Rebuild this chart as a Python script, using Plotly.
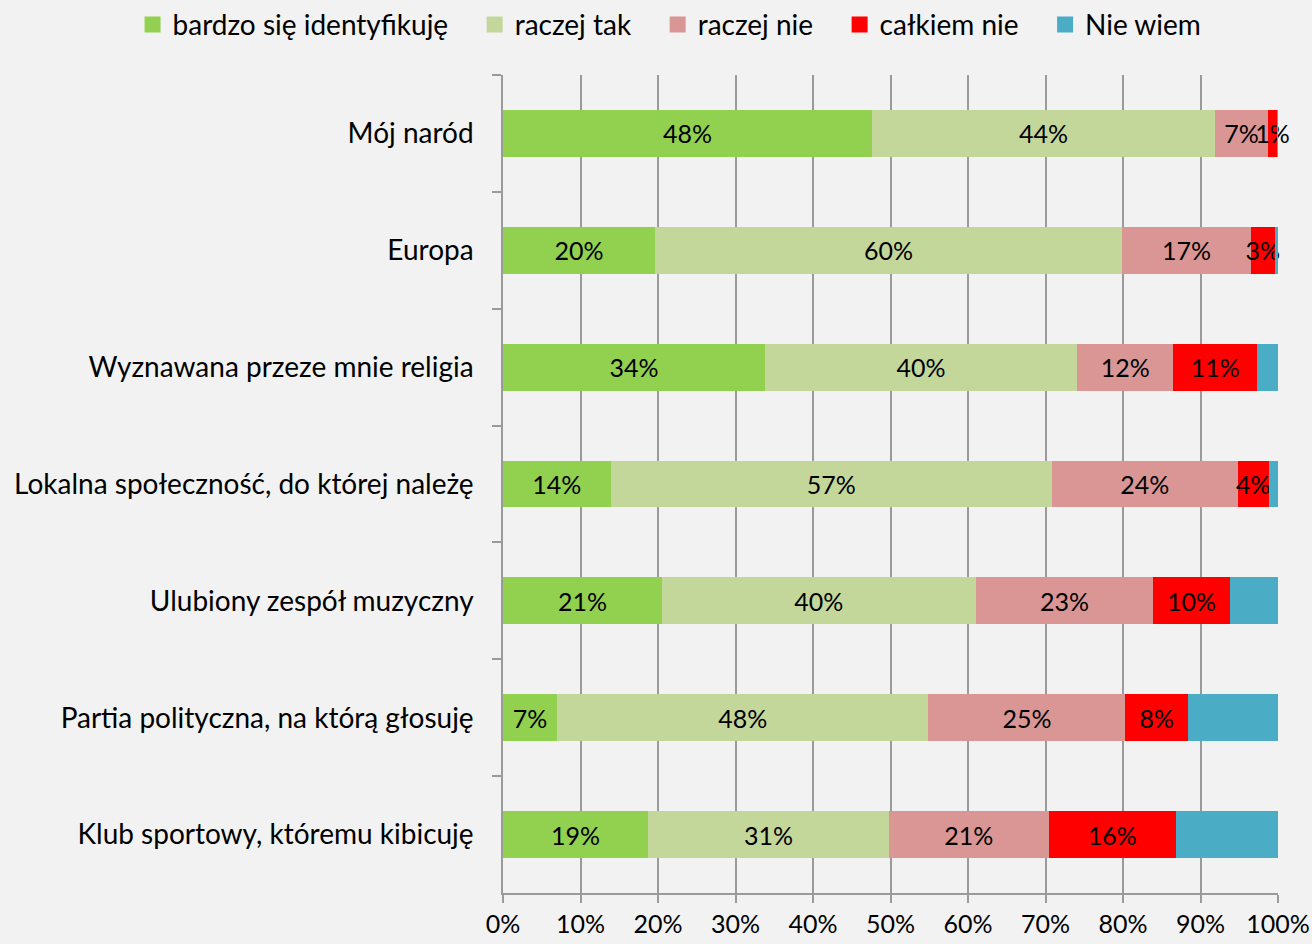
import plotly.graph_objects as go

categories = ["Mój naród", "Europa", "Wyznawana przeze mnie religia",
              "Lokalna społeczność, do której należę", "Ulubiony zespół muzyczny",
              "Partia polityczna, na którą głosuję", "Klub sportowy, któremu kibicuję"]

series_names = ["bardzo się identyfikuję", "raczej tak", "raczej nie", "całkiem nie", "Nie wiem"]

bardzo = [47.6, 19.6, 33.8, 13.9, 20.5, 7.0, 18.7]
raczej_tak = [44.3, 60.3, 40.3, 56.9, 40.5, 47.9, 31.1]
raczej_nie = [6.8, 16.6, 12.4, 24.0, 22.9, 25.4, 20.6]
calkiem_nie = [1.2, 3.1, 10.8, 4.0, 9.9, 8.1, 16.4]
nie_wiem = [0.1, 0.4, 2.7, 1.2, 6.2, 11.6, 13.2]

labels = [
    ["48%", "20%", "34%", "14%", "21%", "7%", "19%"],
    ["44%", "60%", "40%", "57%", "40%", "48%", "31%"],
    ["7%", "17%", "12%", "24%", "23%", "25%", "21%"],
    ["1%", "3%", "11%", "4%", "10%", "8%", "16%"],
    ["", "", "", "", "", "", ""],
]

colors = ["#92d050", "#c4d79b", "#da9694", "#ff0000", "#4bacc6"]

fig = go.Figure()
for name, vals, txt, col in zip(series_names, [bardzo, raczej_tak, raczej_nie, calkiem_nie, nie_wiem], labels, colors):
    fig.add_trace(go.Bar(
        y=categories, x=vals, name=name, orientation="h",
        showlegend=False,
        marker_color=col, marker_line_width=0,
        text=txt, textposition="inside", insidetextanchor="middle",
        textangle=0, constraintext="none", cliponaxis=False,
        textfont=dict(color="black", size=25),
    ))

# legend entries (bigger square markers, padded names for spacing)
pad = "\u00a0" * 3
for i, (name, col) in enumerate(zip(series_names, colors)):
    fig.add_trace(go.Scatter(
        x=[None], y=[None], mode="markers", hoverinfo="skip",
        name=name + (pad if i < len(series_names) - 1 else ""),
        marker=dict(symbol="square", size=16, color=col),
    ))

fig.update_layout(
    barmode="stack",
    bargap=0.6,
    width=1312, height=944,
    paper_bgcolor="#f2f2f2", plot_bgcolor="#f2f2f2",
    font=dict(family="Lato, Open Sans, sans-serif", size=28, color="black"),
    margin=dict(l=503, r=34, t=75, b=51, autoexpand=False),
    uniformtext=dict(minsize=25, mode="show"),
    showlegend=True,
    legend=dict(orientation="h", x=-0.478, xanchor="left", y=1.092, yanchor="top",
                font=dict(size=28), itemwidth=30, traceorder="normal",
                bgcolor="rgba(0,0,0,0)"),
)

fig.update_xaxes(
    range=[0, 100], tickvals=list(range(0, 101, 10)),
    ticktext=[f"{v}%" for v in range(0, 101, 10)],
    showgrid=True, gridcolor="#9a9a9a", gridwidth=1.5,
    showline=True, linecolor="#9a9a9a", linewidth=1.5,
    ticks="outside", ticklen=8, tickcolor="#9a9a9a", tickwidth=1.5,
    tickfont=dict(size=25), zeroline=False,
)
fig.update_yaxes(
    autorange="reversed", tickson="boundaries",
    showline=True, linecolor="#9a9a9a", linewidth=1.5,
    ticks="outside", ticklen=9, tickcolor="#9a9a9a", tickwidth=1.5,
    showgrid=False, tickfont=dict(size=28), ticklabelstandoff=22,
)

fig.write_html("out.html", config={"displayModeBar": False},
               post_script="document.body.style.margin='0';")
